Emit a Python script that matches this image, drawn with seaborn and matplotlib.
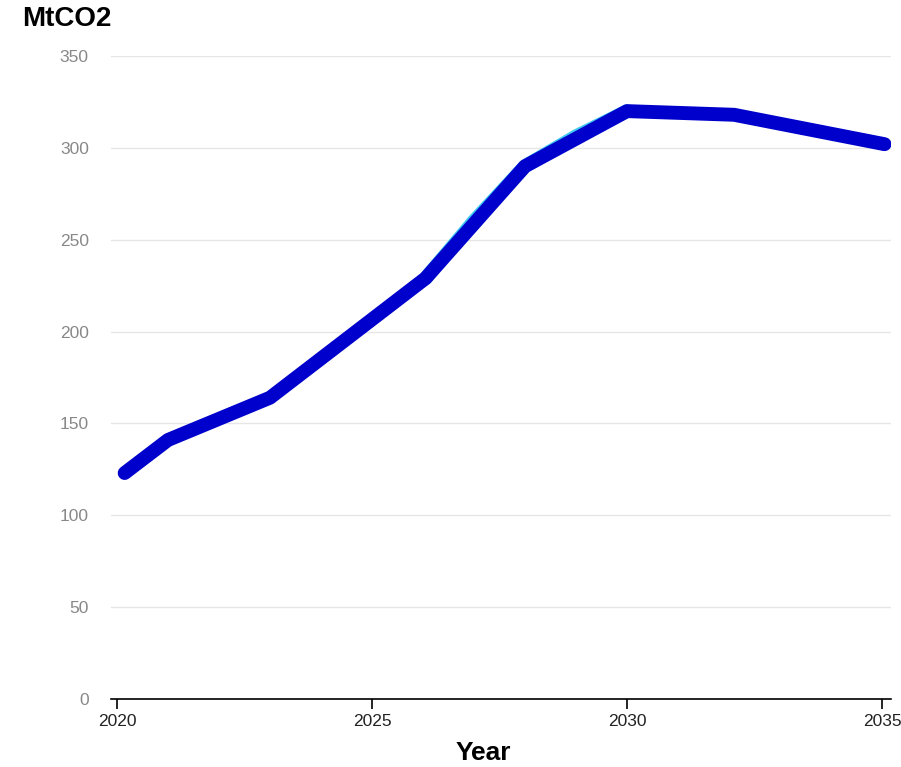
import matplotlib
matplotlib.use("Agg")
import matplotlib.pyplot as plt
import seaborn as sns
import pandas as pd

years = [2020.15, 2021.0, 2023.0, 2026.05, 2028.0, 2030.0, 2032.1, 2035.05]
emissions = [123, 141, 164, 229, 290, 320, 318, 302]

under_years = [2026.05, 2027.0, 2028.0, 2029.0, 2030.0]
under_vals = [229, 260.2, 290, 306.3, 320]

y_ticks = [0, 50, 100, 150, 200, 250, 300, 350]
x_ticks = [2020, 2025, 2030, 2035]

sns.set_theme(style="white")
plt.rcParams['font.family'] = ['Liberation Sans', 'DejaVu Sans']

df = pd.DataFrame({"Year": years, "MtCO2": emissions})
cyan_df = pd.DataFrame({"Year": under_years, "MtCO2": under_vals})

fig = plt.figure(figsize=(9.01, 7.67), dpi=100)
ax = fig.add_axes([111/901, 1-699/767, (891-111)/901, (699-56)/767])

# cyan line underneath (mostly hidden)
sns.lineplot(data=cyan_df, x="Year", y="MtCO2", ax=ax, color="#40c8f0",
             linewidth=10, solid_capstyle="round", solid_joinstyle="round", zorder=2)
sns.lineplot(data=df, x="Year", y="MtCO2", ax=ax, color="#0000cc",
             linewidth=10, solid_capstyle="round", solid_joinstyle="round", zorder=3)

ax.set_xlim(2020 - 6/51, 2035 + 9/51)
ax.set_ylim(0, 350)
ax.set_yticks(y_ticks)
ax.set_xticks(x_ticks)
ax.set_xticklabels([str(t) for t in x_ticks])
ax.yaxis.grid(True, color="#e6e6e6", linewidth=1)
ax.xaxis.grid(False)
for s in ["top", "right", "left"]:
    ax.spines[s].set_visible(False)
ax.spines["bottom"].set_color("black")
ax.spines["bottom"].set_linewidth(1.2)
ax.tick_params(axis="y", length=0, pad=16, labelsize=12.5, labelcolor="#888888")
ax.tick_params(axis="x", length=7, width=1.2, color="black", pad=4,
               labelsize=12.5, labelcolor="#222222", bottom=True)
ax.set_xlabel("")
ax.set_ylabel("")

fig.text(22/901, 1-19/767, "MtCO2", fontsize=20, fontweight="bold",
         ha="left", va="center", color="black")
fig.text(483/901, 1-753/767, "Year", fontsize=19, fontweight="bold",
         ha="center", va="center", color="black")

fig.savefig("out.png", dpi=100)
